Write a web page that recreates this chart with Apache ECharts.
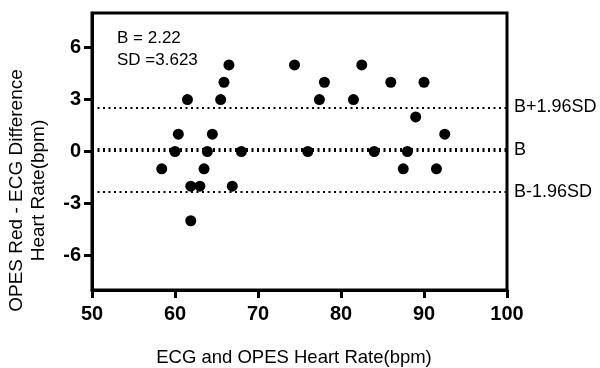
<!DOCTYPE html>
<html>
<head>
<meta charset="utf-8">
<script src="https://cdn.jsdelivr.net/npm/echarts@6/dist/echarts.min.js"></script>
<style>
  html, body { margin: 0; padding: 0; background: #fff; }
  #chart { width: 600px; height: 368px; }
</style>
</head>
<body>
<div id="chart"></div>
<script>
// mean heart rate (x) and difference (y)
const meanHR = [66.5, 65.9, 61.5, 65.5, 60.4, 64.5, 60.0, 63.9, 68.0, 58.4, 63.5, 61.9, 63.0, 66.9, 61.9,
  74.4, 78.0, 77.4, 82.5, 81.5, 86.0, 90.0, 89.0, 92.5, 76.0, 84.0, 88.0, 87.5, 91.5];
const diffHR = [5, 4, 3, 3, 1, 1, 0, 0, 0, -1, -1, -2, -2, -2, -4,
  5, 4, 3, 5, 3, 4, 4, 2, 1, 0, 0, 0, -1, -1];

const yTicks = [-6, -3, 0, 3, 6];
const refNames = ['B+1.96SD', 'B', 'B-1.96SD'];
const refValues = [2.55, 0.1, -2.34];
const statLines = ['B = 2.22', 'SD =3.623'];

const chart = echarts.init(document.getElementById('chart'));

const points = meanHR.map((x, i) => [x, diffHR[i]]);

// mean line is heavier than the two limits
const refLines = refNames.map((name, i) => ({
  name: name,
  yAxis: refValues[i],
  lineStyle: {
    color: '#000',
    width: name === 'B' ? 4 : 2,
    type: [2, 3.5]
  }
}));

const option = {
  animation: false,
  grid: {
    left: 92, right: 93, top: 13, bottom: 78,
    outerBoundsMode: 'none',
    show: true,
    borderColor: '#000',
    borderWidth: 3
  },
  xAxis: {
    type: 'value',
    min: 50, max: 100, interval: 10,
    name: 'ECG and OPES Heart Rate(bpm)',
    nameLocation: 'middle',
    nameGap: 58,
    nameTextStyle: { fontFamily: 'Liberation Sans', fontSize: 18.5, color: '#000', padding: [0, 11, 0, 0] },
    axisLine: { onZero: false, lineStyle: { color: '#000', width: 3 } },
    axisTick: { length: 8, lineStyle: { color: '#000', width: 3 } },
    axisLabel: { margin: 14, fontFamily: 'Liberation Sans', fontWeight: 'bold', fontSize: 20, color: '#000' },
    splitLine: { show: false }
  },
  yAxis: {
    type: 'value',
    min: -8, max: 8,
    name: 'OPES Red - ECG Difference\nHeart Rate(bpm)',
    nameLocation: 'middle',
    nameGap: 42,
    nameTextStyle: { fontFamily: 'Liberation Sans', fontSize: 19, color: '#000', lineHeight: 22, padding: [0, 78, 0, 0] },
    axisLine: { onZero: false, lineStyle: { color: '#000', width: 3 } },
    axisTick: { length: 8, customValues: yTicks, lineStyle: { color: '#000', width: 3 } },
    axisLabel: { margin: 11, customValues: yTicks, fontFamily: 'Liberation Sans', fontWeight: 'bold', fontSize: 20, color: '#000' },
    splitLine: { show: false }
  },
  graphic: [
    {
      type: 'text',
      left: 117, top: 27,
      style: {
        text: statLines.join('\n'),
        font: '17px "Liberation Sans"',
        lineHeight: 22,
        fill: '#000'
      }
    }
  ],
  series: [
    {
      type: 'scatter',
      data: points,
      symbolSize: 11,
      itemStyle: { color: '#000', opacity: 1 },
      markLine: {
        silent: true,
        symbol: 'none',
        data: refLines,
        label: {
          position: 'end',
          distance: 7,
          formatter: '{b}',
          fontFamily: 'Liberation Sans',
          fontSize: 18,
          color: '#000'
        }
      }
    }
  ]
};

chart.setOption(option);
</script>
</body>
</html>
